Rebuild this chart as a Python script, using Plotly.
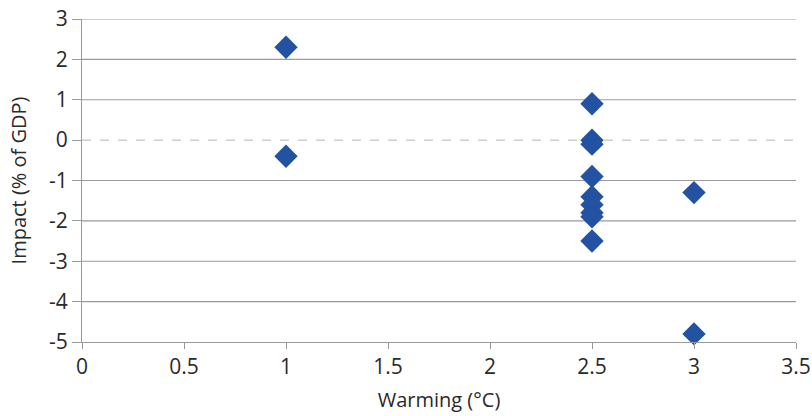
import plotly.graph_objects as go

warming = [1, 1, 2.5, 2.5, 2.5, 2.5, 2.5, 2.5, 2.5, 2.5, 2.5, 3, 3]
impact = [2.3, -0.4, 0.9, 0.0, -0.1, -0.9, -1.4, -1.6, -1.8, -1.9, -2.5, -1.3, -4.8]

x_ticks = [0, 0.5, 1, 1.5, 2, 2.5, 3, 3.5]
y_ticks = [3, 2, 1, 0, -1, -2, -3, -4, -5]

font_family = "Open Sans, Lato, sans-serif"
grey = "#9a9a9a"

fig = go.Figure()
fig.add_trace(go.Scatter(
    x=warming, y=impact, mode="markers",
    marker=dict(symbol="diamond", size=18, color="#2352a3",
                line=dict(width=0)),
    showlegend=False, cliponaxis=False,
))

shapes = []
for v in y_ticks:
    if v == 0:
        shapes.append(dict(type="line", xref="paper", yref="y", x0=0, x1=1, y0=v, y1=v,
                           line=dict(color="#b5b5b5", width=1, dash="dash"), layer="below"))
    elif v != y_ticks[-1]:
        shapes.append(dict(type="line", xref="paper", yref="y", x0=0, x1=1, y0=v, y1=v,
                           line=dict(color=grey, width=1.2), layer="below"))

fig.update_layout(
    width=812, height=416,
    margin=dict(l=82, r=16, t=19, b=74, autoexpand=False),
    paper_bgcolor="white", plot_bgcolor="white",
    font=dict(family=font_family, size=21, color="#2a2a2a"),
    shapes=shapes,
    xaxis=dict(
        range=[0, 3.5], tickvals=x_ticks, ticktext=[str(t) for t in x_ticks],
        showgrid=False, zeroline=False, showline=True, linecolor=grey, linewidth=1.2,
        ticks="outside", ticklen=6, tickcolor=grey, automargin=False,
        ticklabeloverflow="allow",
        title=dict(text="Warming (°C)", standoff=13, font=dict(size=20)),
    ),
    yaxis=dict(
        range=[-5, 3], tickvals=y_ticks, ticktext=[str(t) for t in y_ticks],
        showgrid=False, zeroline=False, showline=True, linecolor=grey, linewidth=1.2,
        ticks="outside", ticklen=9, tickcolor=grey, automargin=False,
        ticklabelstandoff=0, ticklabeloverflow="allow",
        title=dict(text="Impact (% of GDP)", standoff=16, font=dict(size=20)),
    ),
)

fig.write_html("out.html", config={"displayModeBar": False},
               post_script="document.body.style.margin='0';")
